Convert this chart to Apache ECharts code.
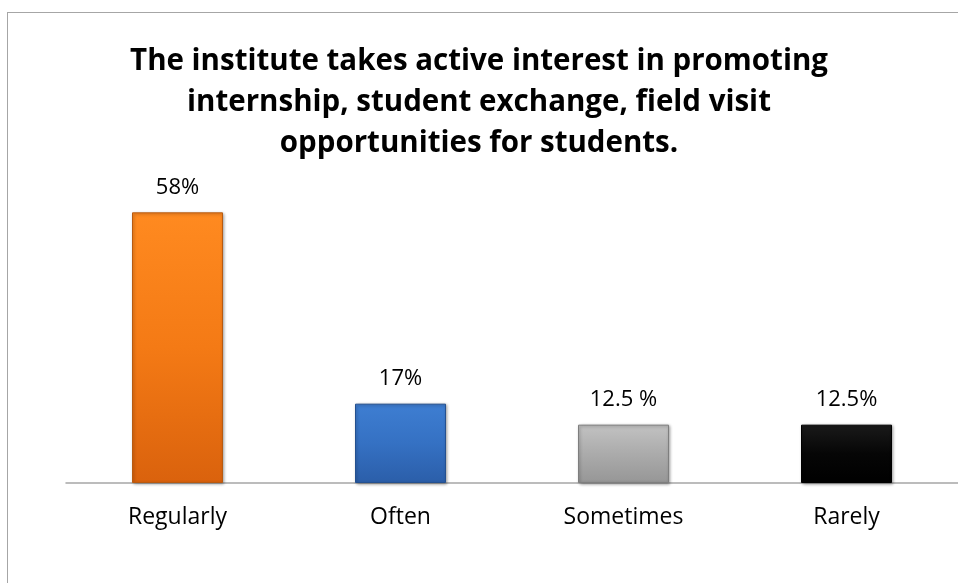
<!DOCTYPE html>
<html>
<head>
<meta charset="utf-8">
<script src="https://cdn.jsdelivr.net/npm/echarts@6/dist/echarts.min.js"></script>
<style>
html,body{margin:0;padding:0;background:#fff;}
#wrap{position:relative;width:958px;height:583px;overflow:hidden;}
#chart{width:958px;height:583px;}
#frame{position:absolute;left:7px;top:12px;width:1200px;height:1200px;border-left:1.5px solid #A6A6A6;border-top:1.5px solid #A6A6A6;pointer-events:none;}
</style>
</head>
<body>
<div id="wrap">
<div id="chart"></div>
<div id="frame"></div>
</div>
<script>
const titleText = "The institute takes active interest in promoting\ninternship, student exchange, field visit\nopportunities for students.";
const categories = ["Regularly", "Often", "Sometimes", "Rarely"];
const values = [58, 17, 12.5, 12.5];
const valueLabels = ["58%", "17%", "12.5 %", "12.5%"];
const barColors = [
  ["#FF8A20", "#F47A15", "#DA620D"],
  ["#3E7ED2", "#3571C3", "#2B5EA9"],
  ["#C2C2C2", "#ABABAB", "#969696"],
  ["#1A1A1A", "#060606", "#000000"]
];
const borderColors = ["#B85A10", "#24508F", "#7E7E7E", "#000000"];

const chart = echarts.init(document.getElementById('chart'), null, {renderer: 'canvas'});

const data = values.map((v, i) => ({
  value: v,
  itemStyle: {
    color: new echarts.graphic.LinearGradient(0, 0, 0, 1, [
      {offset: 0, color: barColors[i][0]},
      {offset: 0.5, color: barColors[i][1]},
      {offset: 1, color: barColors[i][2]}
    ]),
    borderColor: borderColors[i],
    borderWidth: 1,
    shadowColor: 'rgba(0,0,0,0.35)',
    shadowBlur: 3,
    shadowOffsetX: 1,
    shadowOffsetY: 1
  },
  label: {formatter: valueLabels[i]}
}));

chart.setOption({
  animation: false,
  backgroundColor: '#fff',
  title: {
    text: titleText,
    left: 'center',
    top: 36,
    textStyle: {
      fontFamily: 'Open Sans',
      fontWeight: 'bold',
      fontSize: 29.5,
      lineHeight: 41,
      color: '#000'
    }
  },
  grid: {left: 66, width: 906, top: 203, height: 280},
  xAxis: {
    type: 'category',
    data: categories,
    axisLine: {lineStyle: {color: '#A6A6A6', width: 1.5}},
    axisTick: {show: false},
    axisLabel: {
      color: '#000',
      fontFamily: 'Open Sans',
      fontSize: 23,
      margin: 23
    }
  },
  yAxis: {
    type: 'value',
    min: 0,
    max: 60,
    show: false,
    splitLine: {show: false}
  },
  series: [{
    type: 'bar',
    data: data,
    barWidth: 91,
    label: {
      show: true,
      position: 'top',
      distance: 14,
      color: '#000',
      fontFamily: 'Open Sans',
      fontSize: 22
    }
  }]
});
</script>
</body>
</html>
